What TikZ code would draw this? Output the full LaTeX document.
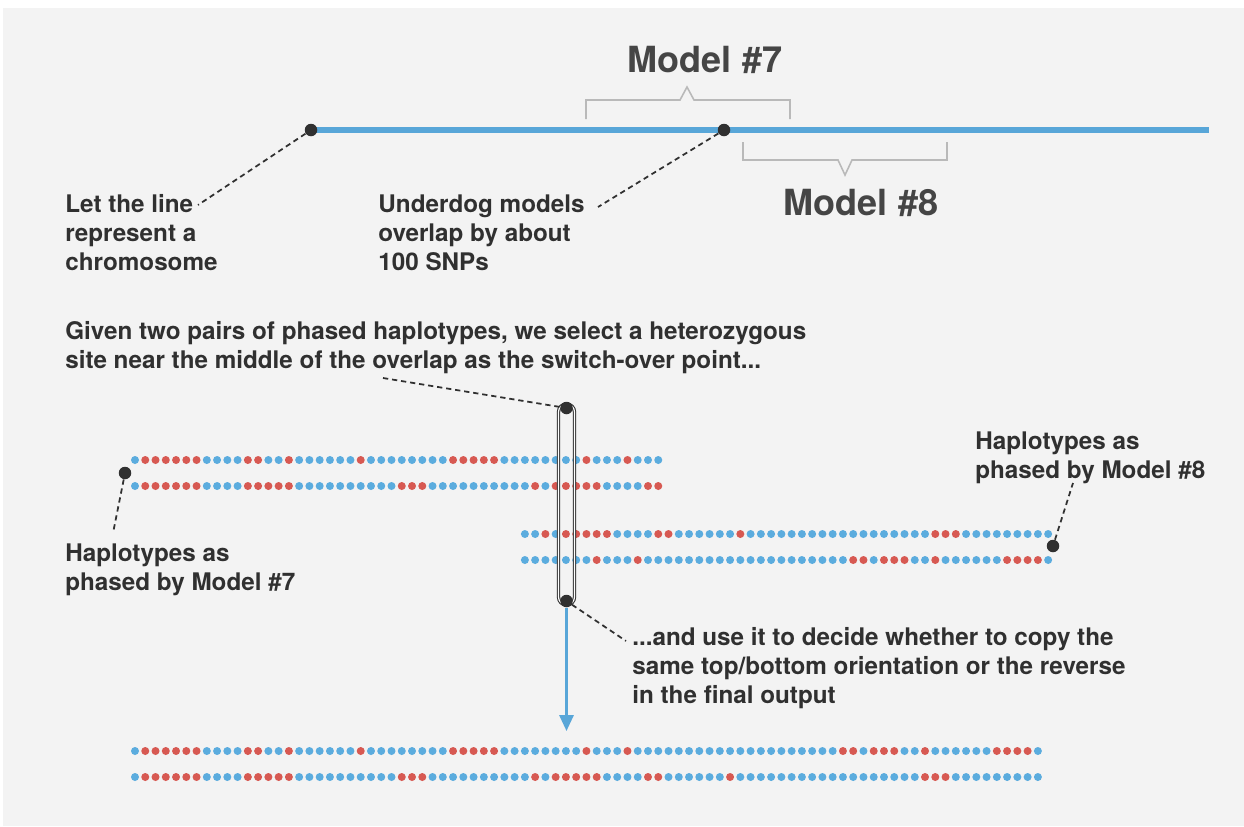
\documentclass[tikz,border=0pt]{standalone}
\usepackage{fontspec}
\setmainfont{TeX Gyre Heros}
\usepackage{tikz}
\usetikzlibrary{arrows.meta,positioning,calc}
\definecolor{snpb}{RGB}{91,172,222}
\definecolor{snpr}{RGB}{215,89,82}
\definecolor{chrblue}{RGB}{88,166,216}
\definecolor{ink}{RGB}{48,48,48}
\definecolor{bracketgray}{RGB}{185,185,185}
\definecolor{bggray}{RGB}{243,243,243}
\tikzstyle{snp}     =[circle, inner sep=0pt, minimum size=0.16cm]
\tikzstyle{blackdot}=[circle, fill=ink, inner sep=0pt, minimum size=0.25cm]
\tikzstyle{leader}  =[draw=ink, line width=1pt, dash pattern=on 3pt off 2.2pt]
\tikzstyle{note}    =[anchor=north west, align=left, inner sep=0pt, text=ink,
                      font=\fontsize{13.8}{16.5}\selectfont\bfseries]
\tikzstyle{model}   =[inner sep=0pt, text=ink!90,
                      font=\fontsize{20.5}{24}\selectfont\bfseries]
\tikzstyle{bracket} =[draw=bracketgray, line width=0.9pt]
\tikzstyle{chrline} =[draw=chrblue, line width=3pt]
\tikzstyle{capsule} =[draw=ink, line width=0.6pt, double=white,
                      double distance=0.7pt, rounded corners=0.16cm]
\newcount\snpidx
% one row of SNP dots: name, first index, y, runs of colour
\newcommand\snprow[4]{%
  \global\snpidx=#2\relax
  \foreach \n/\c in {#4}{%
    \foreach \k in {1,...,\n}{%
      \edef\snpname{#1-\the\snpidx}%
      \node[snp, fill=snp\c] (\snpname) at ({135+10.26*\the\snpidx},#3) {};
      \global\advance\snpidx by 1\relax
    }%
  }%
}
\begin{document}
\begin{tikzpicture}[x=0.02cm, y=-0.02cm]
    \useasboundingbox (0,0) rectangle (1244,826);
    \fill[bggray] (3,8) rectangle (1244,826);

    % chromosome
    \coordinate (chrL) at (311,130);
    \coordinate (chrR) at (1209,130);
    \draw[chrline] (chrL) -- (chrR);
    \node[blackdot] (chrstart) at (chrL) {};
    \node[blackdot] (overlap) at (724,130) {};

    \draw[bracket] (586,119) -- (586,100) -- (680,100) -- (687,87)
                   -- (694,100) -- (790,100) -- (790,119);
    \draw[bracket] (743,142) -- (743,160) -- (838,160) -- (845,175)
                   -- (852,160) -- (947,160) -- (947,142);
    \node[model] (m7label) at (705,60) {Model \#7};
    \node[model] (m8label) at (861,203) {Model \#8};

    \node[note] (chrnote) at (65,194) {Let the line\\represent a\\chromosome};
    \node[note] (overlapnote) at (378,194) {Underdog models\\overlap by about\\100 SNPs};
    \coordinate (chrtip) at (198,205);
    \coordinate (overlaptip) at (598,207);
    \draw[leader] (chrstart) -- (chrtip);
    \draw[leader] (overlap) -- (overlaptip);

    % haplotypes
    \snprow{m7top}{0}{460}{1/b,6/r,4/b,2/r,2/b,1/r,6/b,1/r,8/b,5/r,8/b,1/r,3/b,1/r,3/b}
    \snprow{m7bot}{0}{486}{1/b,6/r,4/b,5/r,10/b,3/r,10/b,1/r,1/b,5/r,4/b,2/r}
    \snprow{m8top}{38}{534}{2/b,1/r,1/b,5/r,4/b,2/r,6/b,1/r,18/b,3/r,9/b}
    \snprow{m8bot}{38}{560}{7/b,1/r,3/b,1/r,20/b,2/r,1/b,3/r,2/b,1/r,6/b,4/r,1/b}
    \snprow{outtop}{0}{751}{1/b,6/r,4/b,2/r,2/b,1/r,6/b,1/r,8/b,5/r,8/b,1/r,3/b,1/r,20/b,2/r,1/b,3/r,2/b,1/r,6/b,4/r,1/b}
    \snprow{outbot}{0}{777}{1/b,6/r,4/b,5/r,10/b,3/r,10/b,1/r,1/b,5/r,4/b,2/r,6/b,1/r,18/b,3/r,9/b}

    \node[blackdot] (m7dot) at (125,473) {};
    \node[blackdot] (m8dot) at (1053,546) {};
    \node[note] (m7note) at (65,543) {Haplotypes as\\phased by Model \#7};
    \node[note] (m8note) at (975,431) {Haplotypes as\\phased by Model \#8};
    \coordinate (m7tip) at (113,533);
    \coordinate (m8tip) at (1073,483);
    \draw[leader] (m7dot) -- (m7tip);
    \draw[leader] (m8dot) -- (m8tip);

    % switch-over site
    \draw[capsule] (558.5,404) rectangle (574.5,605);
    \node[blackdot] (swtop) at (566.5,408) {};
    \node[blackdot] (swbot) at (566.5,601) {};
    \node[note] (givennote) at (65,321) {Given two pairs of phased haplotypes, we select a heterozygous\\site near the middle of the overlap as the switch-over point...};
    \node[note] (usenote) at (632,627) {...and use it to decide whether to copy the\\same top/bottom orientation or the reverse\\in the final output};
    \coordinate (giventip) at (383,378);
    \coordinate (usetip) at (626,641);
    \coordinate (outtip) at (566.5,731);
    \draw[leader] (giventip) -- (swtop);
    \draw[leader] (swbot) -- (usetip);
    \draw[chrblue, line width=1.4pt, -{Triangle[length=9pt,width=8pt]}] (swbot) -- (outtip);
\end{tikzpicture}
\end{document}
